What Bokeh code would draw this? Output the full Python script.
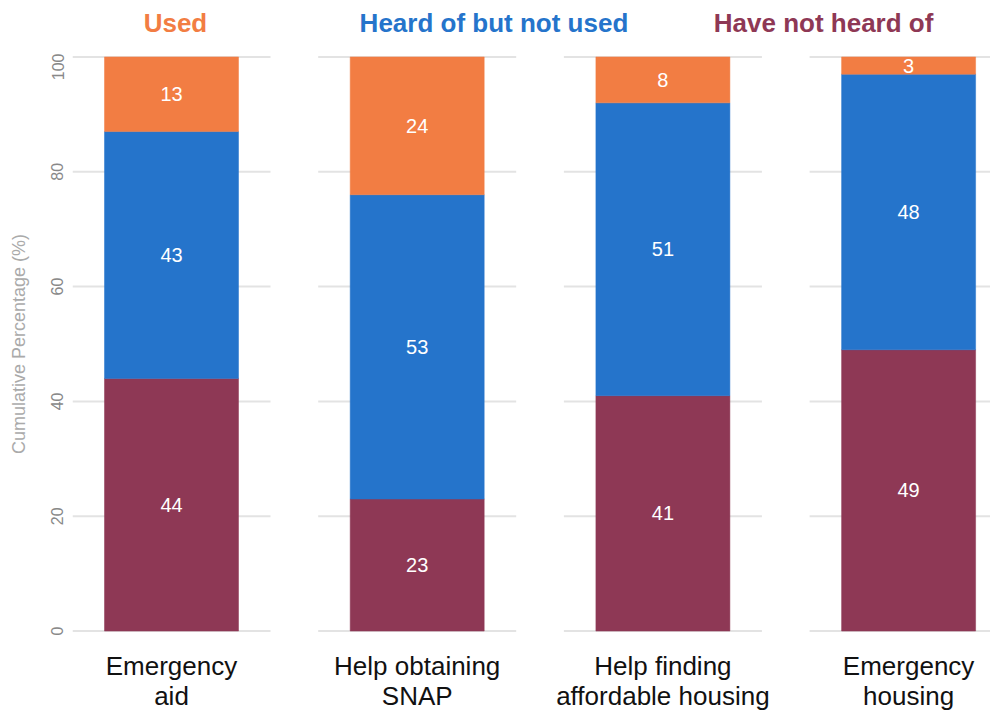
import numpy as np
from bokeh.plotting import figure
from bokeh.layouts import column
from bokeh.models import Range1d, FixedTicker, ColumnDataSource
from bokeh.core.properties import value
from bokeh.embed import file_html
from bokeh.resources import INLINE

categories = ["Emergency\naid", "Help obtaining\nSNAP", "Help finding\naffordable housing", "Emergency\nhousing"]
not_heard = [44, 23, 41, 49]
heard_not_used = [43, 53, 51, 48]
used = [13, 24, 8, 3]
series_names = ["Have not heard of", "Heard of  but not used", "Used"]
series_colors = ["#8E3855", "#2574CB", "#F27D43"]
y_ticks = [0, 20, 40, 60, 80, 100]

FONT = "Liberation Sans"
W = 990
LEFT = 72
PX = 245.7  # pixels per panel unit
half_panel = 99 / PX
bar_w = 134 / PX
xr = Range1d(-half_panel, -half_panel + (W - LEFT) / PX)

# header strip with coloured series names
HEAD = 53
h = figure(width=W, height=HEAD, output_backend="svg", toolbar_location=None,
           x_range=xr, y_range=Range1d(0, 1),
           min_border_left=LEFT, min_border_right=0, min_border_top=0, min_border_bottom=0)
h.outline_line_color = None
h.axis.visible = False
h.grid.visible = False
header_x = [2.654, 1.327, 0.016]
h.text(x=header_x, y=[1 - 22 / HEAD] * 3, text=series_names, text_color=series_colors,
       text_font=value(FONT), text_font_size="26px", text_font_style="bold",
       text_align="center", text_baseline="middle")

FRAME_H = 581
MAIN_H = 715 - HEAD
p = figure(width=W, height=MAIN_H, output_backend="svg", toolbar_location=None,
           x_range=xr, y_range=Range1d(-0.6, 100.6),
           min_border_left=LEFT, min_border_right=0, min_border_top=0,
           min_border_bottom=MAIN_H - FRAME_H)
p.outline_line_color = None
p.xgrid.visible = False
p.ygrid.visible = False

# panel grid lines
x = np.arange(len(categories))
gx0, gx1, gy = [], [], []
for i in x:
    for t in y_ticks:
        gx0.append(i - half_panel)
        gx1.append(i + half_panel)
        gy.append(t)
p.segment(x0=gx0, x1=gx1, y0=gy, y1=gy, line_color="#e3e3e3", line_width=2)

# stacked bars
stacks = [np.array(not_heard), np.array(heard_not_used), np.array(used)]
bottom = np.zeros(len(categories))
tx, ty, tt = [], [], []
for vals, col in zip(stacks, series_colors):
    top = bottom + vals
    src = ColumnDataSource(dict(x=x, bottom=bottom, top=top))
    p.vbar(x="x", bottom="bottom", top="top", width=bar_w, source=src,
           fill_color=col, line_color=col, line_alpha=0.5, line_width=1)
    for i, v in enumerate(vals):
        tx.append(i)
        ty.append((bottom[i] + top[i]) / 2)
        tt.append(str(v))
    bottom = top

p.text(x=tx, y=ty, text=tt, text_color="white", text_font=value(FONT),
       text_font_size="20px", text_align="center", text_baseline="middle")

# axes
p.xaxis.ticker = FixedTicker(ticks=list(x))
p.xaxis.major_label_overrides = {int(i): c for i, c in zip(x, categories)}
p.xaxis.axis_line_color = None
p.xaxis.major_tick_line_color = None
p.xaxis.minor_tick_line_color = None
p.xaxis.major_label_text_font = FONT
p.xaxis.major_label_text_font_size = "26px"
p.xaxis.major_label_text_color = "#111111"
p.xaxis.major_label_text_line_height = 1.0
p.xaxis.major_label_standoff = 10

p.yaxis.ticker = FixedTicker(ticks=y_ticks)
p.yaxis.axis_line_color = None
p.yaxis.major_tick_line_color = None
p.yaxis.minor_tick_line_color = None
p.yaxis.major_label_orientation = "vertical"
p.yaxis.major_label_text_font = FONT
p.yaxis.major_label_text_font_size = "16px"
p.yaxis.major_label_text_color = "#888888"
p.yaxis.major_label_standoff = 3
p.yaxis.axis_label = "Cumulative Percentage (%)"
p.yaxis.axis_label_text_font = FONT
p.yaxis.axis_label_text_font_size = "18px"
p.yaxis.axis_label_text_font_style = "normal"
p.yaxis.axis_label_text_color = "#aaaaaa"
p.yaxis.axis_label_standoff = 20

layout = column(h, p, spacing=0)
open("out.html", "w").write(file_html(layout, INLINE))
